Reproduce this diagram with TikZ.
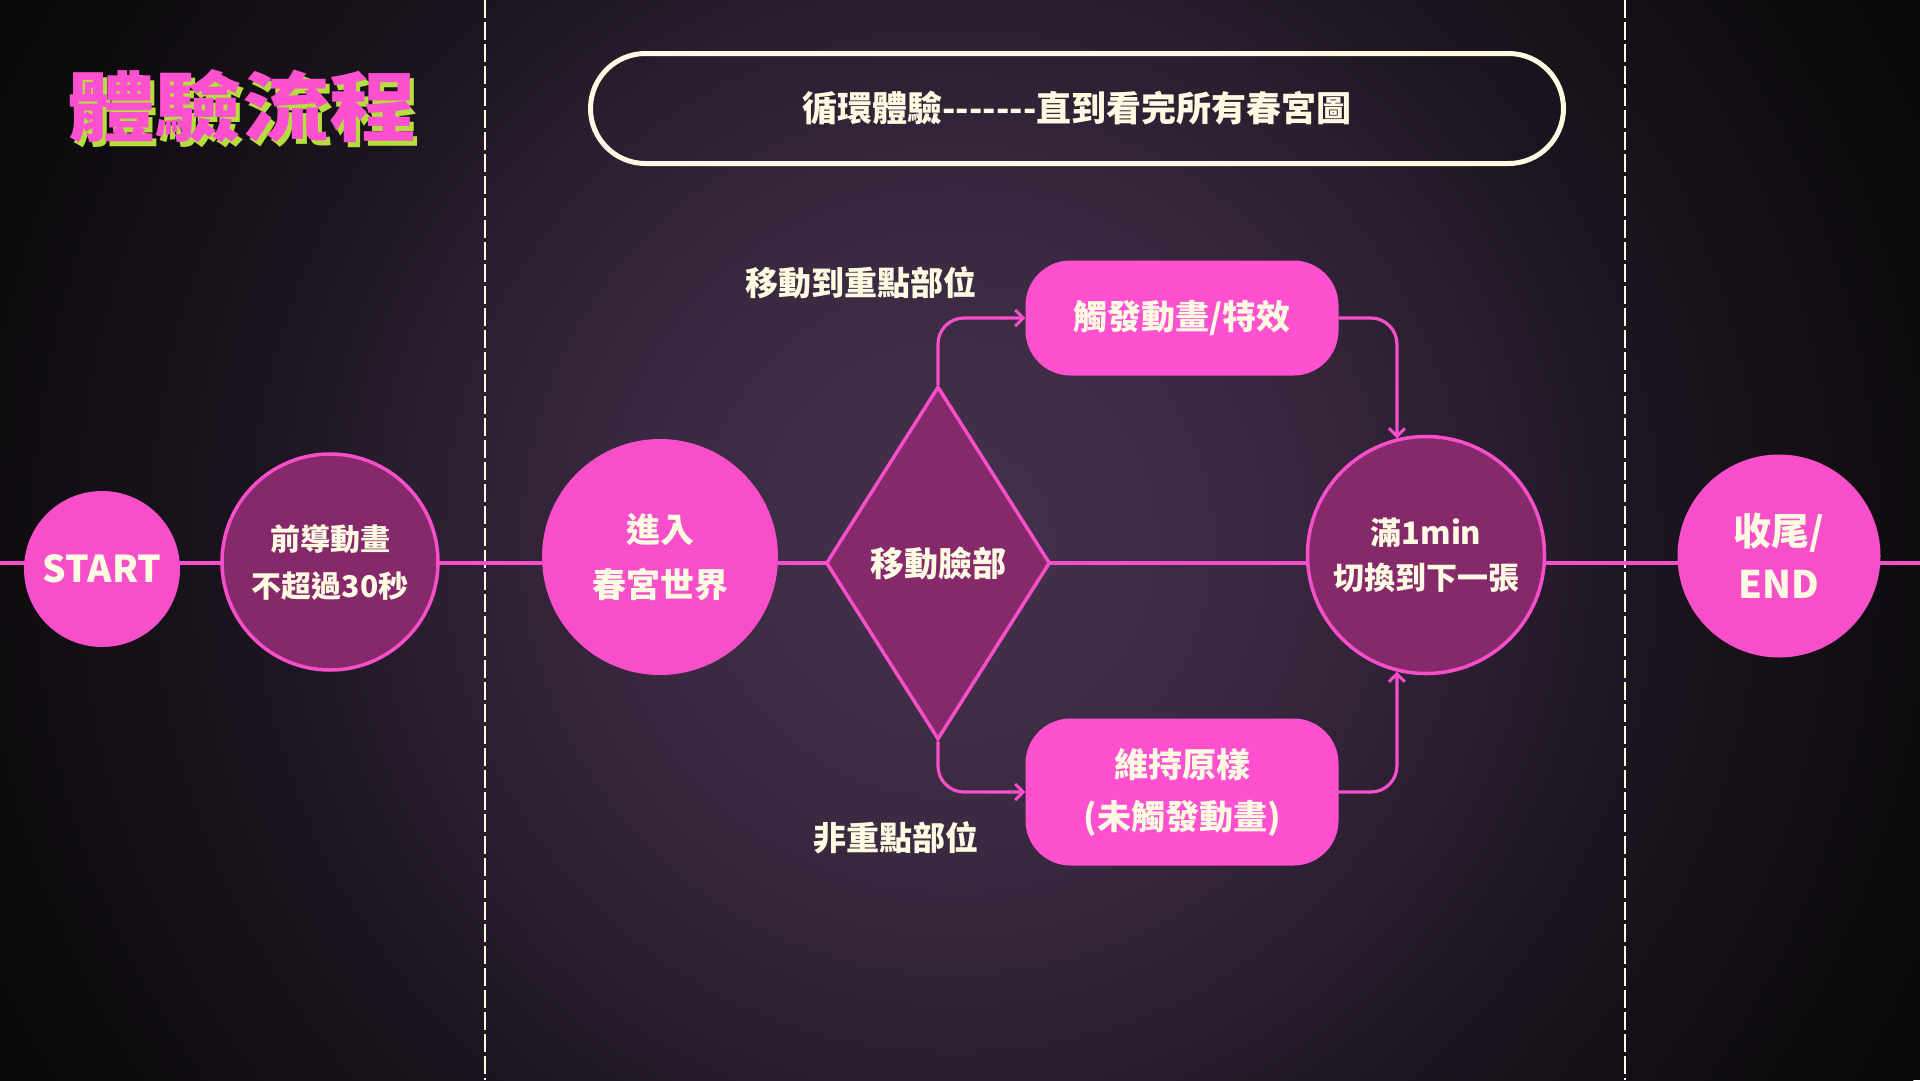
\documentclass[tikz,border=0pt]{standalone}
\usepackage{fontspec}
\usepackage{graphicx}
\newfontfamily\cjk{Noto Sans CJK TC}
\usetikzlibrary{shapes.geometric,arrows.meta,calc}

\definecolor{pinkA}{HTML}{F74FC9}
\definecolor{pinkB}{HTML}{FF50D0}
\definecolor{plum}{HTML}{86296B}
\definecolor{cream}{HTML}{FFFBE3}
\definecolor{lime}{HTML}{B4DF3C}
\definecolor{bg0}{HTML}{46314C}
\definecolor{bg1}{HTML}{3B2941}
\definecolor{bg2}{HTML}{2A1E30}
\definecolor{bg3}{HTML}{1C1520}
\definecolor{bg4}{HTML}{0F0C10}
\definecolor{bg5}{HTML}{0A080A}

% soft purple glow behind the whole chart (25bp = circle radius)
\pgfdeclareradialshading{bgglow}{\pgfpoint{0bp}{0bp}}{%
  color(0bp)=(bg0); color(6.8bp)=(bg1); color(12.3bp)=(bg2);
  color(15.7bp)=(bg3); color(21.7bp)=(bg4); color(25bp)=(bg5); color(50bp)=(bg5)}

\tikzset{
  txt/.style={text=cream, font=\cjk\bfseries, align=center},
  solidc/.style={circle, fill=pinkA, inner sep=0pt, txt},
  ringc/.style={circle, fill=plum, draw=pinkA, line width=3.5pt, inner sep=0pt, txt},
  pill/.style={rectangle, rounded corners=45pt, fill=pinkB, inner sep=0pt,
    minimum width=313pt, txt},
  flow/.style={draw=pinkA, line width=3.5pt},
  arr/.style={draw=pinkA, line width=3.2pt, rounded corners=26pt,
    -{Straight Barb[length=8pt, width=16pt, line width=3pt]}},
  divider/.style={draw=cream, line width=2.6pt, dash pattern=on 18pt off 4pt},
  caption/.style={txt, font=\cjk\bfseries\fontsize{33}{40}\selectfont},
}

\newcommand{\glitchtitle}[1]{%
  \makebox[0pt][l]{\hspace{4pt}\raisebox{-5pt}{\textcolor{lime}{\scalebox{1.15}[1]{#1}}}}%
  \textcolor{pinkB}{\scalebox{1.15}[1]{#1}}}

\begin{document}
\begin{tikzpicture}[x=1pt, y=-1pt]
  \useasboundingbox (0,0) rectangle (1920,1080);

  % background
  \begin{scope}
    \clip (0,0) rectangle (1920,1080);
    \fill[bg5] (0,0) rectangle (1920,1080);
    \shade[shading=bgglow] (955,540) circle[radius=1100pt];
  \end{scope}

  % section dividers
  \coordinate (d1t) at (485,0);    \coordinate (d1b) at (485,1080);
  \coordinate (d2t) at (1625,0);   \coordinate (d2b) at (1625,1080);
  \draw[divider] (d1t) -- (d1b);
  \draw[divider] (d2t) -- (d2b);

  % main timeline
  \coordinate (lw) at (0,563);
  \coordinate (re) at (1920,563);
  \draw[flow] (lw) -- (re);

  % title with offset shadow
  \node[font=\cjk\bfseries\fontsize{76}{80}\selectfont, inner sep=0pt] (title) at (242,109)
    {\glitchtitle{體驗流程}};

  % loop banner
  \node[draw=cream, line width=5pt, rounded corners=55pt, minimum width=973pt,
        minimum height=110pt, inner sep=0pt, txt,
        font=\cjk\bfseries\fontsize{35}{40}\selectfont] (loop) at (1077,108.5)
    {循環體驗-------直到看完所有春宮圖};

  % flow nodes
  \node[solidc, minimum size=156pt, font=\cjk\bfseries\fontsize{37}{40}\selectfont]
    (start) at (102,569) {START};
  \node[ringc, minimum size=216pt, font=\cjk\bfseries\fontsize{30}{47}\selectfont]
    (intro) at (330,562) {前導動畫\\不超過30秒};
  \node[solidc, minimum size=236pt, font=\cjk\bfseries\fontsize{34}{55}\selectfont]
    (enter) at (660,557) {進入\\春宮世界};
  \node[diamond, fill=plum, draw=pinkA, line width=3.5pt, aspect=0.635,
        minimum width=224pt, minimum height=353pt, inner sep=0pt, txt,
        font=\cjk\bfseries\fontsize{34}{40}\selectfont]
    (face) at (938,563) {移動臉部};
  \node[pill, minimum height=115pt, font=\cjk\bfseries\fontsize{34}{40}\selectfont]
    (trig) at (1182,318) {觸發動畫/特效};
  \node[pill, minimum height=147pt, font=\cjk\bfseries\fontsize{34}{52}\selectfont]
    (keep) at (1182,792) {維持原樣\\(未觸發動畫)};
  \node[ringc, minimum size=237pt, font=\cjk\bfseries\fontsize{31}{45}\selectfont]
    (full) at (1426,555) {滿1min\\切換到下一張};
  \node[solidc, minimum size=203pt, font=\cjk\bfseries\fontsize{38}{53}\selectfont]
    (end) at (1779,556) {收尾/\\END};

  % branch labels
  \node[caption] (hitlab) at (861,283) {移動到重點部位};
  \node[caption] (misslab) at (896,838) {非重點部位};

  % branches
  \draw[arr] (face.north) |- (trig.west);
  \draw[arr] (trig.east) -| (full.104);
  \draw[arr] (face.south) |- (keep.west);
  \draw[arr] (keep.east) -| (full.256);
\end{tikzpicture}
\end{document}
